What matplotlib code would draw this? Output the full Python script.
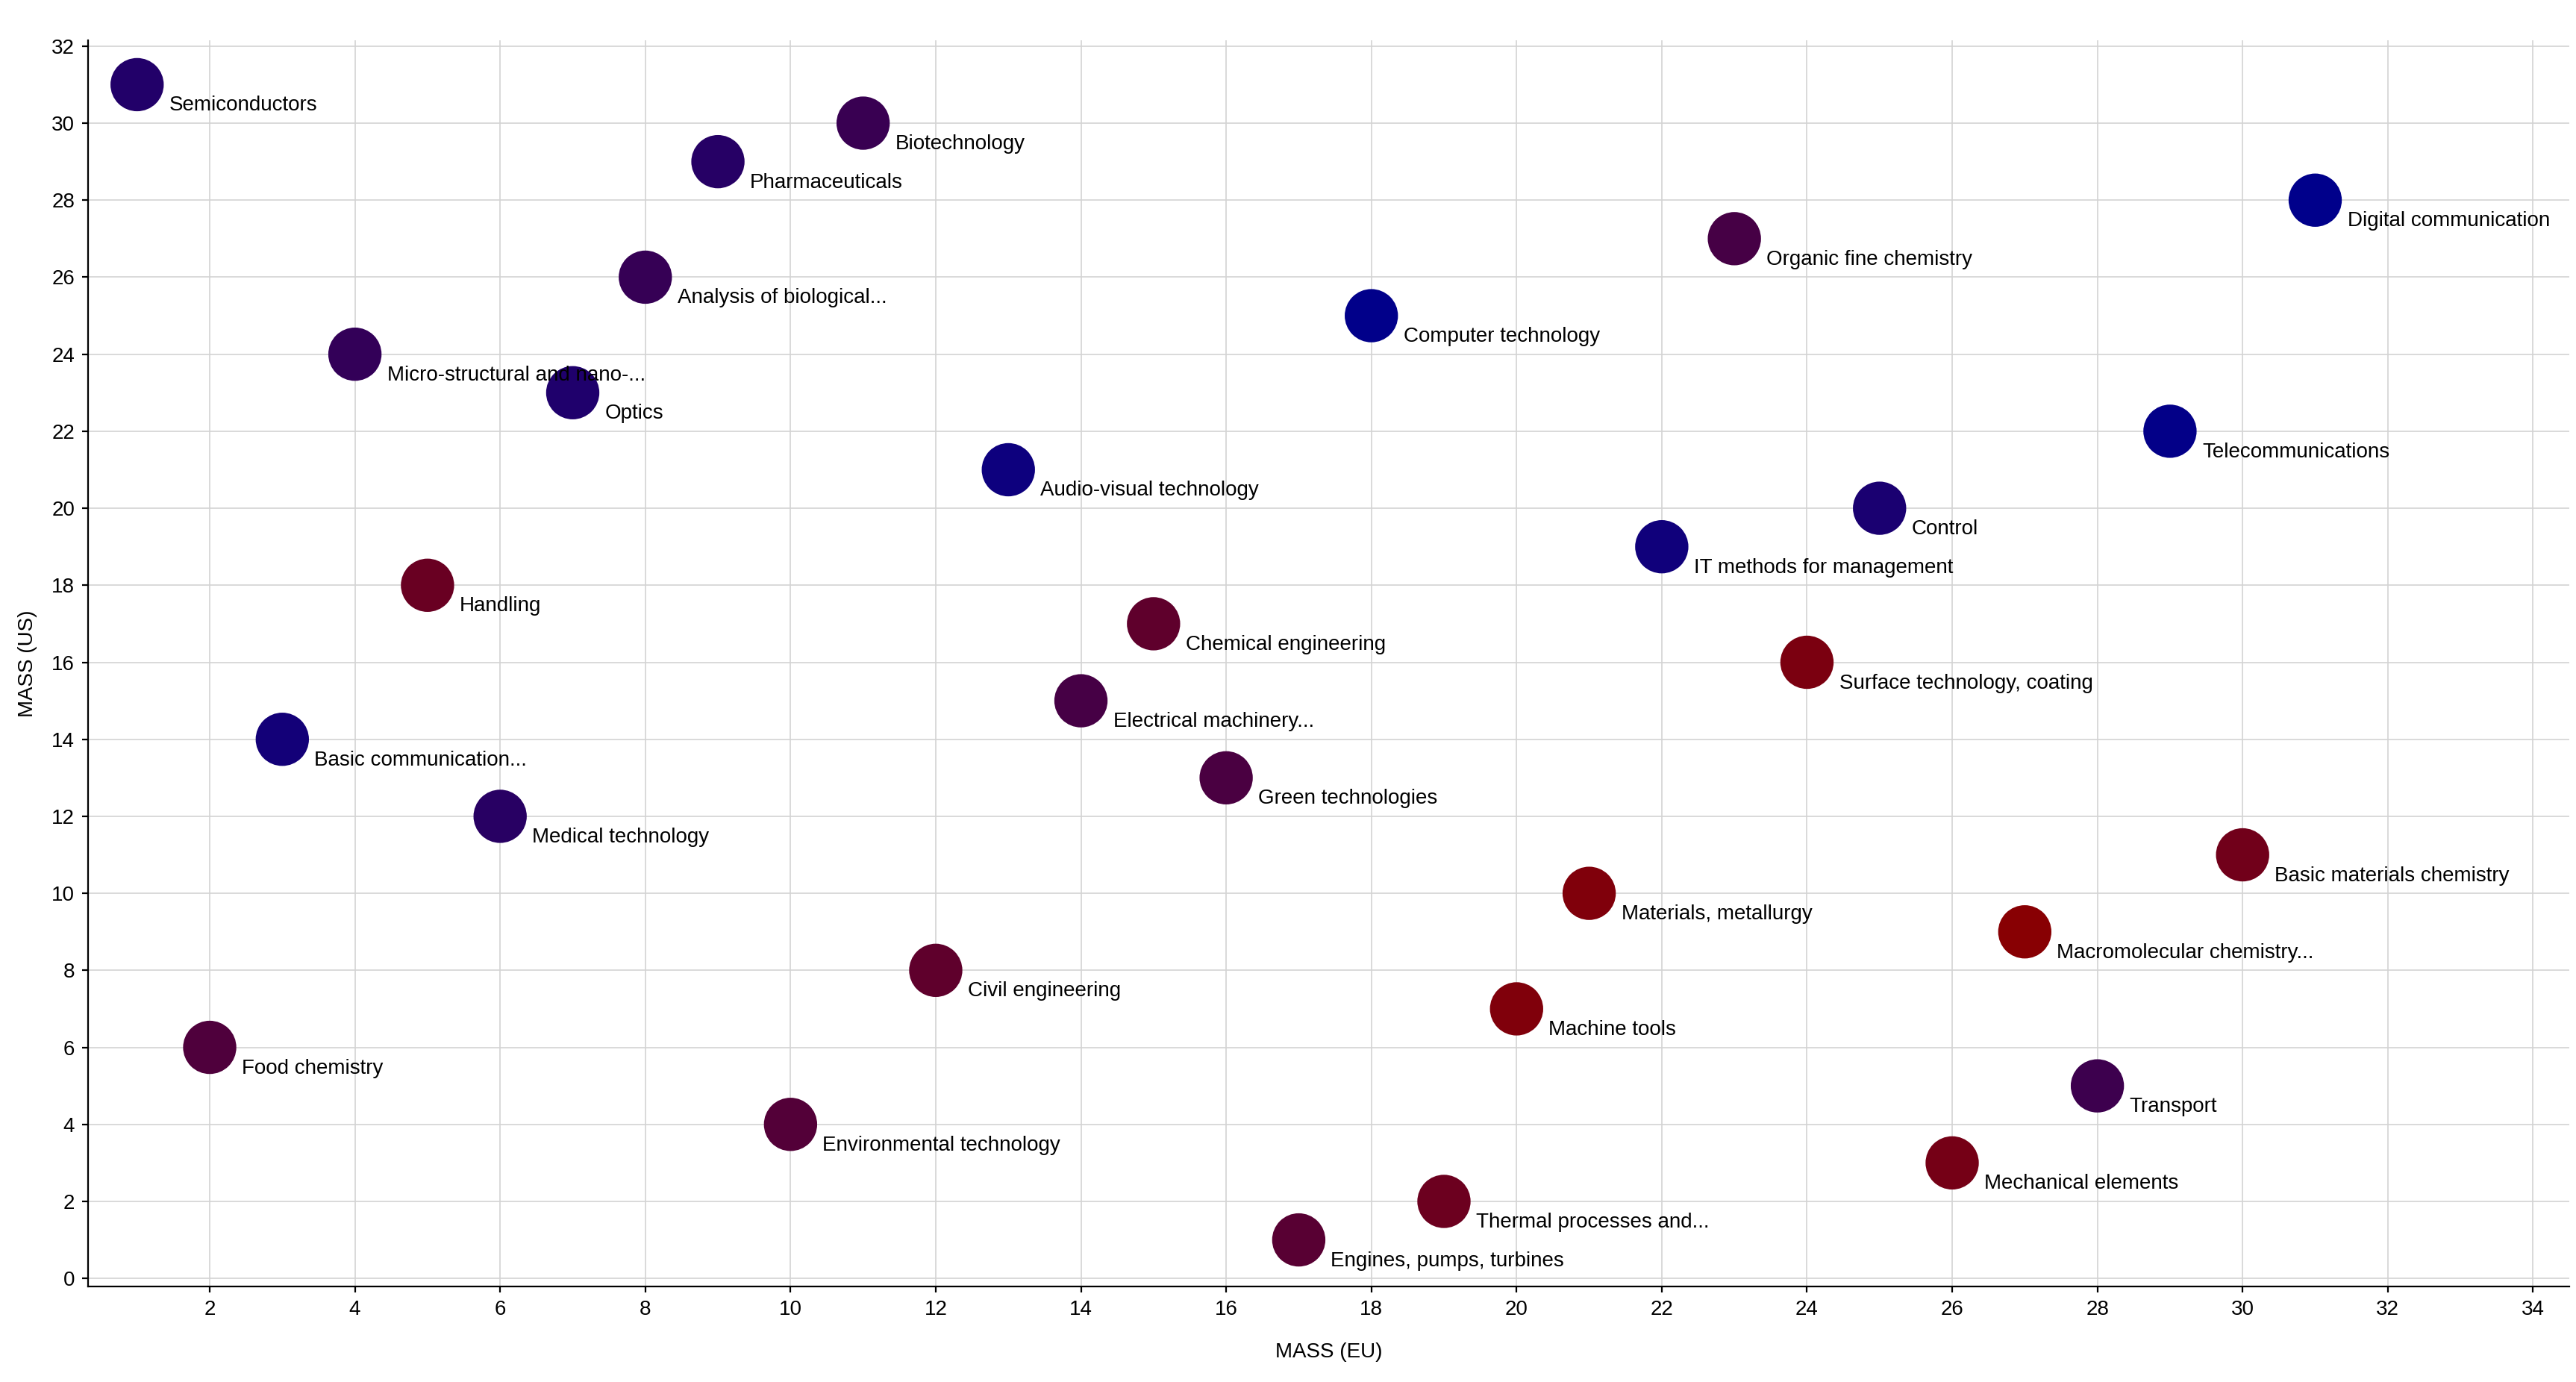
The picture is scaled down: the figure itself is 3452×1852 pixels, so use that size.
import numpy as np
import matplotlib
matplotlib.use("Agg")
import matplotlib.pyplot as plt
from matplotlib.colors import LinearSegmentedColormap

# one point per technology field; x = MASS (EU), y = MASS (US), shade = colour score (0 blue -> 1 red)
labels = [
    "Semiconductors", "Food chemistry", "Basic communication...", "Micro-structural and nano-...",
    "Handling", "Medical technology", "Optics", "Analysis of biological...", "Pharmaceuticals",
    "Environmental technology", "Biotechnology", "Civil engineering", "Audio-visual technology",
    "Electrical machinery...", "Chemical engineering", "Green technologies", "Engines, pumps, turbines",
    "Computer technology", "Thermal processes and...", "Machine tools", "Materials, metallurgy",
    "IT methods for management", "Organic fine chemistry", "Surface technology, coating", "Control",
    "Mechanical elements", "Macromolecular chemistry...", "Transport", "Telecommunications",
    "Basic materials chemistry", "Digital communication",
]
mass_eu = [1, 2, 3, 4, 5, 6, 7, 8, 9, 10, 11, 12, 13, 14, 15, 16,
           17, 18, 19, 20, 21, 22, 23, 24, 25, 26, 27, 28, 29, 30, 31]
mass_us = [31, 6, 14, 24, 18, 12, 23, 26, 29, 4, 30, 8, 21, 15, 17, 13,
           1, 25, 2, 7, 10, 19, 27, 16, 20, 3, 9, 5, 22, 11, 28]
shade = [0.245, 0.57, 0.14, 0.37, 0.755, 0.29, 0.22, 0.39, 0.27, 0.60, 0.41, 0.68, 0.09, 0.50,
         0.68, 0.53, 0.63, 0.01, 0.78, 0.92, 0.92, 0.12, 0.50, 0.88, 0.19, 0.84, 0.98, 0.44,
         0.02, 0.81, 0.0]

plt.rcParams['font.family'] = ['Liberation Sans', 'DejaVu Sans']

cmap = LinearSegmentedColormap.from_list("bluered", ["#00008b", "#8b0000"])

fig = plt.figure(figsize=(17.26, 9.26), dpi=200)
ax = fig.add_axes([0.0342, 0.0691, 0.9632, 0.9017])

ax.scatter(mass_eu, mass_us, c=shade, cmap=cmap, vmin=0, vmax=1, s=660,
           linewidths=0, zorder=3)
for x, y, name in zip(mass_eu, mass_us, labels):
    ax.annotate(name, (x, y), xytext=(15.5, -12.6), textcoords="offset points",
                fontsize=10, va="baseline", ha="left", color="black", zorder=4)

ax.set_xlim(0.325, 34.5)
ax.set_ylim(-0.21, 32.15)
ax.set_xticks(np.arange(2, 35, 2))
ax.set_yticks(np.arange(0, 33, 2))
ax.tick_params(labelsize=10, length=3, width=0.8, pad=3.5, color="black")

ax.grid(True, color="#d3d3d3", linewidth=0.6, zorder=0)
ax.set_axisbelow(True)
for side in ("top", "right"):
    ax.spines[side].set_visible(False)
for side in ("left", "bottom"):
    ax.spines[side].set_linewidth(0.8)

ax.set_xlabel("MASS (EU)", fontsize=10, va="center")
ax.set_ylabel("MASS (US)", fontsize=10, va="center")
ax.xaxis.set_label_coords(0.5, -0.0527)
ax.yaxis.set_label_coords(-0.0243, 0.5)

fig.savefig("out.png", dpi=200)
